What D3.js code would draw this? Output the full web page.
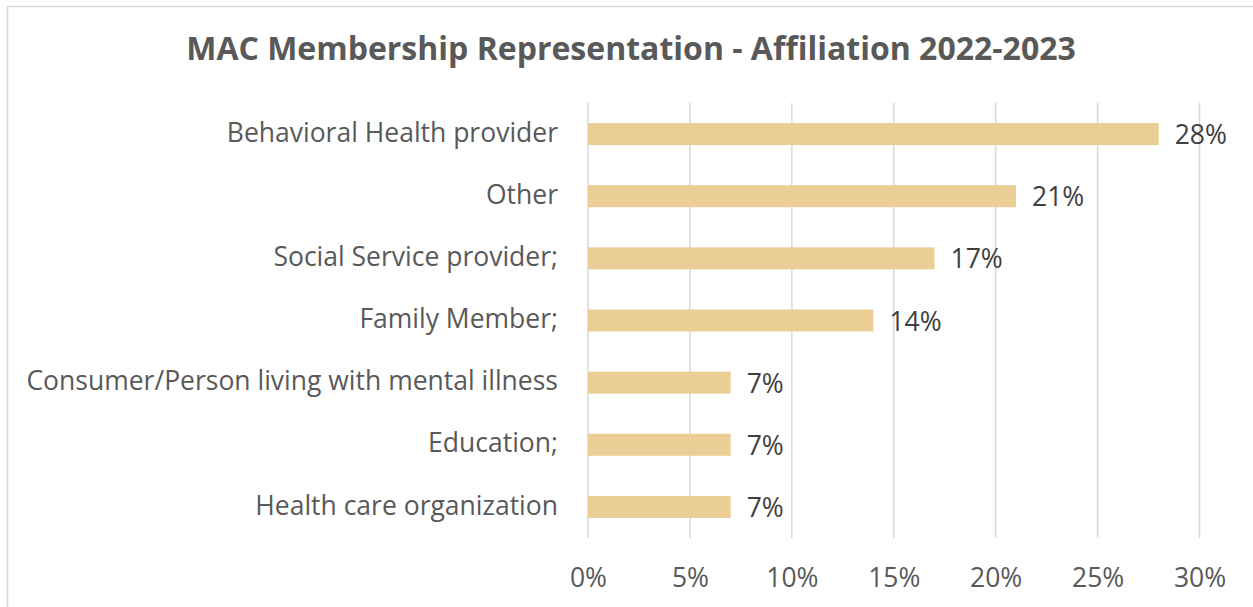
<!DOCTYPE html>
<html lang="en">
<head>
<meta charset="UTF-8">
<title>MAC Membership Representation</title>
<script src="https://cdn.jsdelivr.net/npm/d3@7"></script>
<style>
    body { margin: 0; background: #fff; }
    svg { display: block; font-family: "Open Sans", sans-serif; }
</style>
</head>
<body>
<div id="chart"></div>
<script>
const categories = [
    "Behavioral Health provider",
    "Other",
    "Social Service provider;",
    "Family Member;",
    "Consumer/Person living with mental illness",
    "Education;",
    "Health care organization"
];
const values = [28, 21, 17, 14, 7, 7, 7];
const ticks = [0, 5, 10, 15, 20, 25, 30];

const width = 1253;
const height = 607;

const svg = d3.select("#chart").append("svg")
    .attr("width", width)
    .attr("height", height);

// chart frame (right / bottom edges fall outside the picture)
svg.append("rect")
    .attr("x", 7.5).attr("y", 6.5)
    .attr("width", width + 20).attr("height", height + 20)
    .attr("fill", "#fff")
    .attr("stroke", "#d9d9d9")
    .attr("stroke-width", 1.5);

svg.append("text")
    .attr("x", 631)
    .attr("y", 60)
    .attr("text-anchor", "middle")
    .attr("font-size", 32)
    .attr("font-weight", "bold")
    .attr("fill", "#595959")
    .text("MAC Membership Representation - Affiliation 2022-2023");

const x = d3.scaleLinear().domain([0, 30]).range([588, 1199.5]);
const y = d3.scaleBand().domain(categories).range([103, 538]).paddingInner(0.646).paddingOuter(0.323);

// gridlines
svg.selectAll(".grid")
    .data(ticks)
    .enter()
    .append("line")
    .attr("x1", d => x(d)).attr("x2", d => x(d))
    .attr("y1", 103).attr("y2", 538)
    .attr("stroke", "#d9d9d9")
    .attr("stroke-width", 1.5);

// bars
svg.selectAll(".bar")
    .data(values)
    .enter()
    .append("rect")
    .attr("x", x(0))
    .attr("y", (d, i) => y(categories[i]))
    .attr("width", d => x(d) - x(0))
    .attr("height", y.bandwidth())
    .attr("fill", "#ebce95");

// value labels
svg.selectAll(".val")
    .data(values)
    .enter()
    .append("text")
    .attr("x", d => x(d) + 16)
    .attr("y", (d, i) => y(categories[i]) + y.bandwidth() / 2)
    .attr("dy", "0.38em")
    .attr("font-size", 26.5)
    .attr("fill", "#404040")
    .text(d => d + "%");

// category axis
const yAxis = svg.append("g")
    .attr("transform", `translate(${x(0)},0)`)
    .call(d3.axisLeft(y).tickSize(0).tickPadding(30));
yAxis.select(".domain").remove();
yAxis.selectAll("text")
    .attr("font-size", 26.5)
    .attr("font-family", "Open Sans, sans-serif")
    .attr("fill", "#595959")
    .attr("dy", "0.29em");

// value axis
const xAxis = svg.append("g")
    .attr("transform", "translate(0,538)")
    .call(d3.axisBottom(x).tickValues(ticks).tickFormat(d => d + "%").tickSize(0));
xAxis.select(".domain").remove();
xAxis.selectAll("text")
    .attr("font-size", 26.5)
    .attr("font-family", "Open Sans, sans-serif")
    .attr("fill", "#595959")
    .attr("y", 49)
    .attr("dy", 0);
</script>
</body>
</html>
